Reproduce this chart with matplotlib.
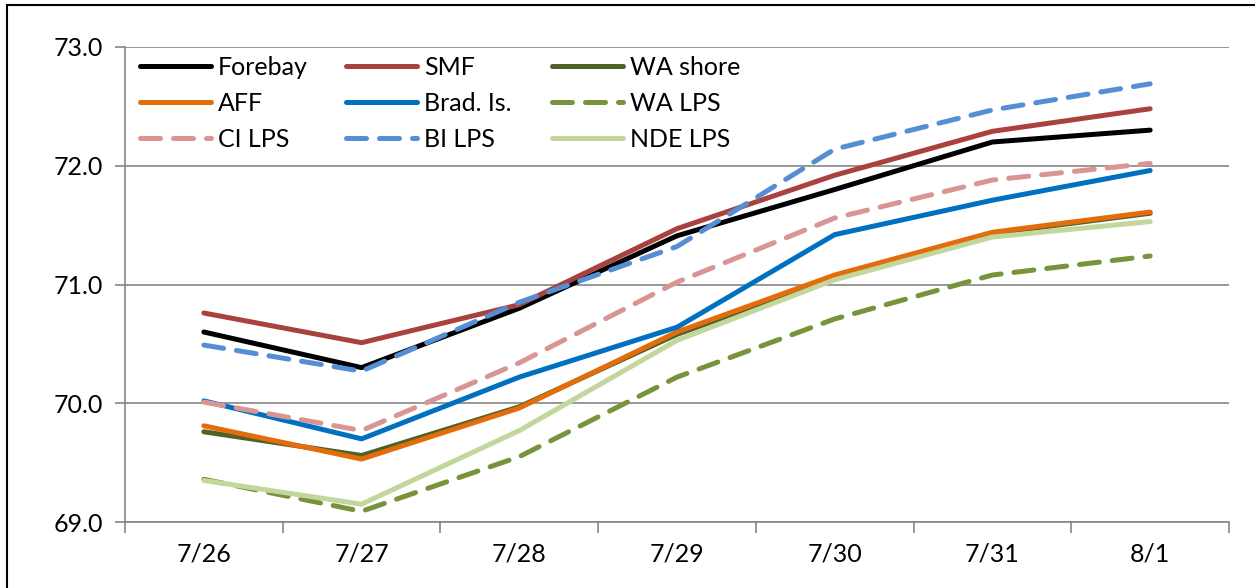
import matplotlib
matplotlib.use("Agg")
import matplotlib.pyplot as plt
from matplotlib.patches import Rectangle
from matplotlib.ticker import FixedLocator, NullFormatter

dates = ["7/26", "7/27", "7/28", "7/29", "7/30", "7/31", "8/1"]

forebay  = [70.60, 70.30, 70.80, 71.41, 71.80, 72.20, 72.30]
smf      = [70.76, 70.51, 70.83, 71.47, 71.92, 72.29, 72.48]
wa_shore = [69.76, 69.56, 69.97, 70.58, 71.06, 71.43, 71.60]
aff      = [69.81, 69.53, 69.96, 70.60, 71.08, 71.44, 71.61]
brad_is  = [70.02, 69.70, 70.22, 70.64, 71.42, 71.71, 71.96]
wa_lps   = [69.36, 69.09, 69.55, 70.22, 70.71, 71.08, 71.24]
ci_lps   = [70.01, 69.77, 70.34, 71.02, 71.56, 71.88, 72.02]
bi_lps   = [70.49, 70.27, 70.85, 71.32, 72.14, 72.47, 72.69]
nde_lps  = [69.35, 69.15, 69.77, 70.53, 71.04, 71.40, 71.53]

series = [
    ("Forebay", forebay, "#000000", "-"),
    ("SMF", smf, "#A9423F", "-"),
    ("WA shore", wa_shore, "#4F6228", "-"),
    ("AFF", aff, "#E46C0A", "-"),
    ("Brad. Is.", brad_is, "#0070C0", "-"),
    ("WA LPS", wa_lps, "#77933C", "--"),
    ("CI LPS", ci_lps, "#D99594", "--"),
    ("BI LPS", bi_lps, "#558ED5", "--"),
    ("NDE LPS", nde_lps, "#C3D69B", "-"),
]

plt.rcParams['font.family'] = ['Lato', 'DejaVu Sans']

W, H = 1255, 588
fig = plt.figure(figsize=(W / 100, H / 100), dpi=100)
ax = fig.add_axes([125 / W, (H - 522) / H, (1229 - 125) / W, (522 - 47) / H])

x = list(range(len(dates)))
handles = {}
for name, vals, col, ls in series:
    kw = dict(color=col, lw=3.6, solid_capstyle='round', dash_capstyle='round',
              solid_joinstyle='round', label=name)
    if ls == "--":
        kw['dashes'] = (4.0, 2.6)
    ln, = ax.plot(x, vals, **kw)
    handles[name] = ln

ax.set_xlim(-0.5, len(dates) - 0.5)
ax.set_ylim(69.0, 73.0)
ax.set_yticks([69, 70, 71, 72, 73])
ax.set_yticklabels([f"{v:.1f}" for v in [69, 70, 71, 72, 73]])
ax.set_xticks(x)
ax.set_xticklabels(dates)
ax.xaxis.set_minor_locator(FixedLocator([i - 0.5 for i in range(len(dates) + 1)]))
ax.xaxis.set_minor_formatter(NullFormatter())

grid_c = "#868686"
ax.grid(axis='y', color=grid_c, lw=1.2)
ax.set_axisbelow(True)
for s in ['top', 'right']:
    ax.spines[s].set_visible(False)
for s in ['left', 'bottom']:
    ax.spines[s].set_color(grid_c)
    ax.spines[s].set_linewidth(1.2)

ax.tick_params(axis='y', which='major', length=7, width=1.2, color=grid_c,
               pad=9, labelsize=18, labelcolor='black')
ax.tick_params(axis='x', which='major', length=0, pad=15, labelsize=18, labelcolor='black')
ax.tick_params(axis='x', which='minor', length=8, width=1.2, color=grid_c)

columns = [["Forebay", "AFF", "CI LPS"],
           ["SMF", "Brad. Is.", "BI LPS"],
           ["WA shore", "WA LPS", "NDE LPS"]]
col_x = [140, 346, 552]
for names, cx in zip(columns, col_x):
    fig.legend([handles[n] for n in names], names, ncol=1,
               loc='upper left', bbox_to_anchor=(cx / W, 1 - 56 / H),
               bbox_transform=fig.transFigure, frameon=False,
               fontsize=18, handlelength=2.85, handletextpad=0.26,
               labelspacing=0.52, borderpad=0, borderaxespad=0)

fig.patches.append(Rectangle((7 / W, -0.2), 2.0, (H - 5) / H + 0.2,
                             transform=fig.transFigure, fill=False,
                             edgecolor='black', lw=1.5))

fig.savefig("out.png", dpi=100)
